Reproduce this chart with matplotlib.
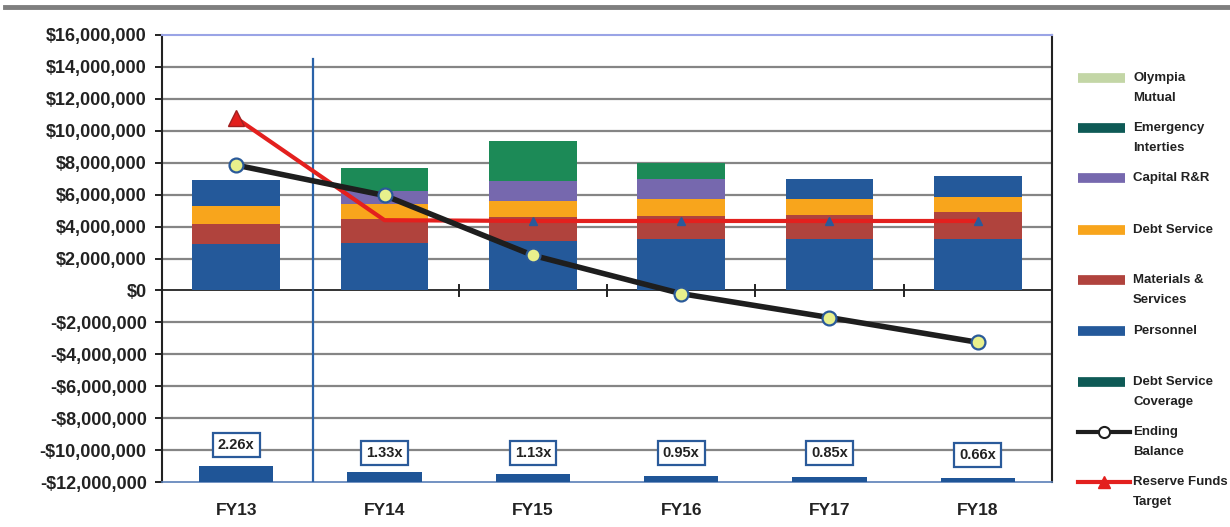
import matplotlib
matplotlib.use("Agg")
import matplotlib.pyplot as plt
from matplotlib.lines import Line2D
import numpy as np

# ---------------- data ----------------
years = ["FY13", "FY14", "FY15", "FY16", "FY17", "FY18"]
personnel = [2.9e6, 3.0e6, 3.1e6, 3.2e6, 3.2e6, 3.25e6]
materials = [1.25e6, 1.45e6, 1.5e6, 1.45e6, 1.55e6, 1.65e6]
debt_service = [1.15e6, 0.95e6, 1.0e6, 1.05e6, 0.95e6, 0.95e6]
capital_rr = [1.6e6, 0.8e6, 1.25e6, 1.3e6, 1.3e6, 1.3e6]
emergency = [0, 1.5e6, 2.5e6, 1.0e6, 0, 0]
olympia = [0, 0, 0, 0, 0, 0]
ending_balance = [7.85e6, 5.95e6, 2.2e6, -0.2e6, -1.7e6, -3.25e6]
reserve_target = [10.8e6, 4.4e6, 4.35e6, 4.35e6, 4.35e6, 4.35e6]
coverage = [2.26, 1.33, 1.13, 0.95, 0.85, 0.66]
coverage_bar = [1.0e6, 0.62e6, 0.5e6, 0.35e6, 0.3e6, 0.25e6]
coverage_label_y = [-9.7e6, -10.2e6, -10.2e6, -10.2e6, -10.2e6, -10.3e6]

legend_labels = [
    ("Olympia", "Mutual"), ("Emergency", "Interties"), ("Capital R&R",),
    ("Debt Service",), ("Materials &", "Services"), ("Personnel",),
    ("Debt Service", "Coverage"), ("Ending", "Balance"), ("Reserve Funds", "Target"),
]

# ---------------- style ----------------
FONT = "Liberation Sans"
C_PERS = "#24599a"
C_MAT = "#b0433d"
C_DEBT = "#f8a51c"
C_CAP = "#7668ae"
C_EMER = "#1c8a57"
C_OLY = "#c3d6a6"
C_EMER_LEG = "#0e5a56"
C_COV = "#1f5597"
cap_colors = [C_PERS, C_CAP, C_CAP, C_CAP, C_PERS, C_PERS]

W, H = 1230, 527
fig = plt.figure(figsize=(W / 100, H / 100), dpi=100)
ax = fig.add_axes([162 / W, 1 - 482 / H, (1052 - 162) / W, (482 - 35) / H])

x = np.arange(len(years))
bw = 0.59

# gridlines
for v in np.arange(-12e6, 16.1e6, 2e6):
    if v in (0, -12e6, 16e6):
        continue
    ax.axhline(v, color="#858585", lw=1.6, zorder=1)

bottom = np.zeros(len(years))
for vals, col in [(personnel, C_PERS), (materials, C_MAT), (debt_service, C_DEBT),
                  (capital_rr, cap_colors), (emergency, C_EMER), (olympia, C_OLY)]:
    ax.bar(x, vals, bw, bottom=bottom, color=col, edgecolor="none", zorder=3)
    bottom = bottom + np.array(vals)

# coverage bars at the bottom
ax.bar(x, coverage_bar, 0.5, bottom=-12e6, color=C_COV, zorder=3)
for xi, c, ly in zip(x, coverage, coverage_label_y):
    ax.text(xi, ly, f"{c:.2f}x", ha="center", va="center", fontsize=10.5,
            fontweight="bold", family=FONT, color="#222222", zorder=6,
            bbox=dict(boxstyle="square,pad=0.35", fc="white", ec="#2a5a9a", lw=1.6))

# zero axis line and category tick marks
ax.axhline(0, color="#222222", lw=1.3, zorder=2)
for b in [1.5, 2.5, 3.5, 4.5]:
    ax.plot([b, b], [-0.35e6, 0.35e6], color="#222222", lw=1.4, zorder=2)

# vertical blue divider
ax.plot([0.52, 0.52], [-12e6, 14.5e6], color="#2a62a8", lw=1.6, zorder=4)

# reserve funds target
ax.plot(x, reserve_target, color="#e3201e", lw=3, zorder=5)
ax.plot(x[:1], reserve_target[:1], marker="^", ms=11, color="#e3201e",
        mec="#a02020", ls="none", zorder=6)
ax.plot(x[2:], reserve_target[2:], marker="^", ms=6, color="#2a5a9a",
        ls="none", zorder=6)

# ending balance
ax.plot(x, ending_balance, color="#1e1e1e", lw=4, zorder=7)
ax.plot(x, ending_balance, marker="o", ms=10, mfc="#e8f08c", mec="#2a5a9a",
        mew=1.6, ls="none", zorder=8)

# axes
ax.set_xlim(-0.5, 5.5)
ax.set_ylim(-12e6, 16e6)
ax.set_yticks(np.arange(-12e6, 16.1e6, 2e6))
ax.set_yticklabels([f"${v:,.0f}" if v >= 0 else f"-${-v:,.0f}"
                    for v in np.arange(-12e6, 16.1e6, 2e6)],
                   fontsize=13, fontweight="bold", family=FONT, color="#222222")
ax.set_xticks(x)
ax.set_xticklabels(years, fontsize=12.5, fontweight="bold", family=FONT, color="#222222")
ax.tick_params(axis="x", length=0, pad=15)
ax.tick_params(axis="y", length=5, width=1.4, color="#222222", pad=6)
ax.spines["left"].set_color("#222222")
ax.spines["left"].set_linewidth(1.5)
ax.spines["right"].set_color("#222222")
ax.spines["right"].set_linewidth(1.5)
ax.spines["top"].set_color("#9aa4e6")
ax.spines["top"].set_linewidth(1.5)
ax.spines["bottom"].set_color("#5a7fb8")
ax.spines["bottom"].set_linewidth(1.2)

# top scan band
fig.add_artist(Line2D([5 / W, 1], [1 - 7 / H, 1 - 7 / H], color="#7f7f7f", lw=3.5))

# manual legend
leg_colors = [C_OLY, C_EMER_LEG, C_CAP, C_DEBT, C_MAT, C_PERS, C_EMER_LEG, None, None]
ys = [78, 128, 178, 230, 280, 331, 382, 432, 482]
for i, (lab, col, yp) in enumerate(zip(legend_labels, leg_colors, ys)):
    yf = 1 - yp / H
    x0, x1 = 1078 / W, 1125 / W
    if col is not None:
        fig.add_artist(Line2D([x0, x1], [yf, yf], color=col, lw=7, solid_capstyle="butt"))
    elif i == 7:
        fig.add_artist(Line2D([x0, 1130 / W], [yf, yf], color="#1e1e1e", lw=3))
        fig.add_artist(Line2D([1104 / W], [yf], marker="o", ms=8, mfc="white",
                              mec="#1e1e1e", mew=1.5))
    else:
        fig.add_artist(Line2D([x0, 1130 / W], [yf, yf], color="#e3201e", lw=3))
        fig.add_artist(Line2D([1104 / W], [yf], marker="^", ms=8, color="#e3201e"))
    for j, line in enumerate(lab):
        fig.text(1133 / W, 1 - (yp + 20 * j) / H, line, fontsize=9.5, fontweight="bold",
                 family=FONT, color="#222222", va="center", ha="left")

fig.savefig("out.png", dpi=100)
